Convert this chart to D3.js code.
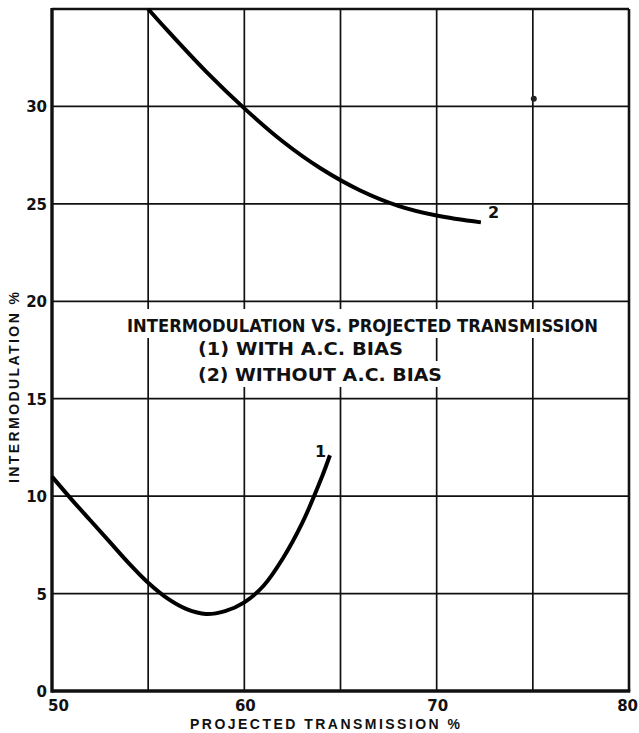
<!DOCTYPE html>
<html><head><meta charset="utf-8">
<script src="https://cdn.jsdelivr.net/npm/d3@7"></script>
<style>body{margin:0;background:#fff}svg{display:block}text{font-family:"Liberation Sans",Arial,sans-serif;font-weight:bold;fill:#111}.dj{font-family:"DejaVu Sans",sans-serif}</style>
</head><body>
<script>
const xTicks = [50, 60, 70, 80];
const yTicks = [0, 5, 10, 15, 20, 25, 30];
const gridX = [55, 60, 65, 70, 75];
const gridY = [5, 10, 15, 20, 25, 30];
const curve1X = [50, 51, 52, 53, 54, 55, 56, 57, 58, 59, 60, 61, 62, 63, 64, 64.45];
const curve1Y = [11, 9.85, 8.75, 7.65, 6.55, 5.55, 4.75, 4.2, 3.95, 4.1, 4.55, 5.4, 6.8, 8.6, 10.9, 12.1];
const curve2X = [55, 56, 58, 60, 62, 64, 66, 68, 70, 72.3];
const curve2Y = [35, 33.9, 31.8, 29.9, 28.2, 26.8, 25.7, 24.9, 24.4, 24.05];
const curveLabels = ["1", "2"];
const legendLines = ["INTERMODULATION VS. PROJECTED TRANSMISSION", "(1) WITH A.C. BIAS", "(2) WITHOUT A.C. BIAS"];
const xTitle = "PROJECTED  TRANSMISSION %";
const yTitle = "INTERMODULATION %";
const specks = [[75.05, 30.4]];

const W = 639, H = 733;
const svg = d3.select("body").append("svg").attr("width", W).attr("height", H);
const x = d3.scaleLinear().domain([50, 80]).range([52, 629]);
const y = d3.scaleLinear().domain([0, 35]).range([691, 9]);

// grid
const grid = svg.append("g");
grid.selectAll(".gx").data(gridX).enter().append("line")
  .attr("x1", d => x(d)).attr("x2", d => x(d)).attr("y1", y(0)).attr("y2", y(35))
  .attr("stroke", "#111").attr("stroke-width", 1.7);
grid.selectAll(".gy").data(gridY).enter().append("line")
  .attr("x1", x(50)).attr("x2", x(80)).attr("y1", d => y(d)).attr("y2", d => y(d))
  .attr("stroke", "#111").attr("stroke-width", 1.7);

// legend (white boxes interrupt grid)
const leg = svg.append("g");
const legPos = [[127, 332, 471], [198, 355, 205], [198, 381, 244]];
const legTexts = legendLines.map((t, i) => leg.append("text").attr("class", "dj")
  .attr("x", legPos[i][0]).attr("y", legPos[i][1]).attr("font-size", 17.5)
  .attr("textLength", legPos[i][2]).attr("lengthAdjust", "spacingAndGlyphs").text(t));
const boxes = [[309, 338], [338, 361], [361, 387]];
legTexts.forEach((t, i) => {
  const b = t.node().getBBox();
  leg.insert("rect", "text").attr("x", b.x - 5).attr("width", b.width + 10)
    .attr("y", boxes[i][0]).attr("height", boxes[i][1] - boxes[i][0]).attr("fill", "#fff");
});

// frame
svg.append("line").attr("x1", x(50)).attr("x2", x(80)).attr("y1", y(35)).attr("y2", y(35)).attr("stroke", "#111").attr("stroke-width", 2.6);
svg.append("line").attr("x1", x(80)).attr("x2", x(80)).attr("y1", y(0)).attr("y2", y(35)).attr("stroke", "#111").attr("stroke-width", 2.6);
svg.append("line").attr("x1", x(50)).attr("x2", x(50)).attr("y1", y(0)+1.7).attr("y2", y(35)-1).attr("stroke", "#111").attr("stroke-width", 3.4);
svg.append("line").attr("x1", x(50)).attr("x2", x(80)+1.3).attr("y1", y(0)).attr("y2", y(0)).attr("stroke", "#111").attr("stroke-width", 3.4);

// tick labels
svg.selectAll(".yt").data(yTicks).enter().append("text").attr("class", "dj")
  .attr("x", x(50) - 5).attr("y", d => y(d) + 6).attr("text-anchor", "end")
  .attr("font-size", 15).text(d => d);
svg.selectAll(".xt").data(xTicks).enter().append("text").attr("class", "dj")
  .attr("x", (d, i) => i === 0 ? x(d) - 4 : (i === xTicks.length - 1 ? x(d) + 9 : x(d) + 1))
  .attr("y", y(0) + 20)
  .attr("text-anchor", (d, i) => i === 0 ? "start" : (i === xTicks.length - 1 ? "end" : "middle"))
  .attr("font-size", 15).text(d => d);

// axis titles
svg.append("text").attr("x", 190).attr("y", 729).attr("font-size", 14)
  .attr("textLength", 270).attr("lengthAdjust", "spacing").text(xTitle);
svg.append("text").attr("transform", "translate(19,483) rotate(-90)").attr("font-size", 14)
  .attr("textLength", 191).attr("lengthAdjust", "spacing").text(yTitle);

// curves
const line = d3.line().x(d => x(d[0])).y(d => y(d[1])).curve(d3.curveCatmullRom.alpha(0.5));
const c1 = curve1X.map((v, i) => [v, curve1Y[i]]);
const c2 = curve2X.map((v, i) => [v, curve2Y[i]]);
[c1, c2].forEach(c => svg.append("path").attr("d", line(c)).attr("fill", "none")
  .attr("stroke", "#000").attr("stroke-width", 4).attr("stroke-linecap", "butt"));

// curve labels
const e1 = c1[c1.length - 1], e2 = c2[c2.length - 1];
svg.append("text").attr("class", "dj").attr("x", x(e1[0]) - 15).attr("y", y(e1[1]) + 2)
  .attr("font-size", 16).attr("font-weight", "normal").text(curveLabels[0]);
svg.append("text").attr("class", "dj").attr("x", x(e2[0]) + 7).attr("y", y(e2[1]) - 4)
  .attr("font-size", 16).text(curveLabels[1]);

// specks
svg.selectAll(".sp").data(specks).enter().append("circle")
  .attr("cx", d => x(d[0])).attr("cy", d => y(d[1])).attr("r", 3).attr("fill", "#222");
</script>
</body></html>
